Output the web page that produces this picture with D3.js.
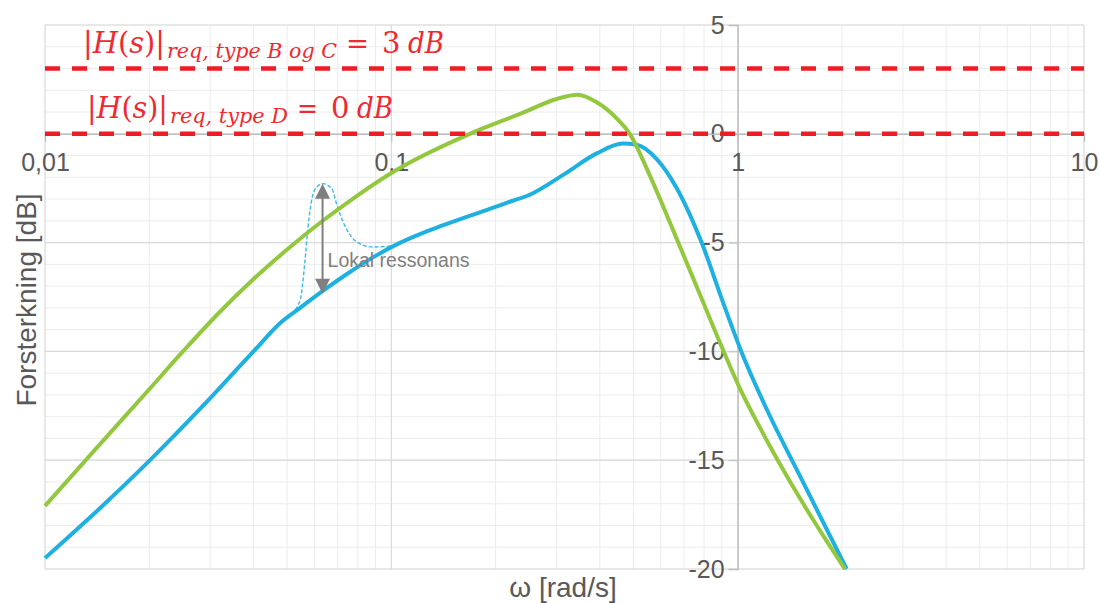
<!DOCTYPE html>
<html><head><meta charset="utf-8">
<script src="https://cdn.jsdelivr.net/npm/d3@7"></script>
<style>body{margin:0;background:#fff}svg{display:block}</style>
</head><body>
<svg id="c" width="1100" height="603"></svg>
<script>
// ---- data ----
const greenOmega = [0.01, 0.0141, 0.02, 0.0251, 0.0316, 0.0398, 0.0501, 0.0631, 0.0794, 0.1, 0.1685, 0.24, 0.30, 0.345, 0.392, 0.448, 0.488, 0.557, 0.649, 0.777, 0.911, 1.0, 1.213, 1.51, 2.04];
const greenGain  = [-17.1, -14.43, -11.74, -9.98, -8.27, -6.71, -5.31, -4.02, -2.86, -1.8, 0, 0.97, 1.6, 1.8, 1.45, 0.7, 0, -1.9, -4.38, -7.36, -10.0, -11.48, -14.08, -16.73, -20];
const blueOmega  = [0.01, 0.0141, 0.0201, 0.0282, 0.04, 0.0483, 0.0544, 0.0634, 0.075, 0.0885, 0.1044, 0.125, 0.138, 0.1924, 0.222, 0.251, 0.3126, 0.3918, 0.4658, 0.511, 0.583, 0.667, 0.787, 0.905, 1.027, 1.213, 1.51, 2.064];
const blueGain   = [-19.5, -17.35, -15.0, -12.6, -10.0, -8.63, -8.01, -7.22, -6.41, -5.68, -5.06, -4.52, -4.26, -3.45, -3.1, -2.8, -1.9, -0.9, -0.45, -0.5, -1.15, -2.5, -5.0, -7.7, -10.05, -12.66, -15.7, -20];
const resOmega   = [0.0483, 0.0544, 0.0563, 0.0574, 0.0590, 0.0610, 0.0634, 0.0673, 0.0696, 0.0725, 0.0759, 0.0811, 0.0885, 0.101];
const resGain    = [-8.63, -7.71, -5.87, -4.36, -2.98, -2.43, -2.29, -2.52, -3.26, -4.04, -4.63, -5.05, -5.2, -5.15];
const reqLevels  = [3, 0];
const xTicks     = [0.01, 0.1, 1, 10];
const xTickLabels= ["0,01", "0,1", "1", "10"];
const yTicks     = [5, 0, -5, -10, -15, -20];
const arrowOmega = 0.0633, arrowTop = -2.3, arrowBottom = -7.35;
const annotText  = "Lokal ressonans";
const xTitle = "ω [rad/s]", yTitle = "Forsterkning [dB]";

// ---- chart ----
const svg = d3.select("#c");
const x = d3.scaleLog().domain([0.01, 10]).range([45, 1084]);
const y = d3.scaleLinear().domain([-20, 5]).range([569, 25]);
const font = "'Liberation Sans', Arial, sans-serif";

// minor grid
const minorX = [];
for (let e = -2; e <= 0; e++) for (let k = 2; k <= 9; k++) minorX.push(k * Math.pow(10, e));
const minorY = d3.range(-20, 6, 1);
const g = svg.append("g");
g.selectAll(".mx").data(minorX).join("line")
  .attr("x1", d => x(d)).attr("x2", d => x(d)).attr("y1", y(5)).attr("y2", y(-20))
  .attr("stroke", "#ececec").attr("stroke-width", 1);
g.selectAll(".my").data(minorY).join("line")
  .attr("x1", x(0.01)).attr("x2", x(10)).attr("y1", d => y(d)).attr("y2", d => y(d))
  .attr("stroke", "#ececec").attr("stroke-width", 1);
// major grid
g.selectAll(".Mx").data(xTicks).join("line")
  .attr("x1", d => x(d)).attr("x2", d => x(d)).attr("y1", y(5)).attr("y2", y(-20))
  .attr("stroke", "#d9d9d9").attr("stroke-width", 1.2);
g.selectAll(".My").data(yTicks).join("line")
  .attr("x1", x(0.01)).attr("x2", x(10)).attr("y1", d => y(d)).attr("y2", d => y(d))
  .attr("stroke", "#d9d9d9").attr("stroke-width", 1.2);

// axes (y axis at omega = 1, x axis at 0 dB)
const yAxis = d3.axisLeft(y).tickValues(yTicks).tickSize(9).tickFormat(d => d);
const ya = svg.append("g").attr("transform", `translate(${x(1)},0)`).call(yAxis);
ya.select(".domain").attr("stroke", "#bdbdbd").attr("stroke-width", 1.3);
ya.selectAll(".tick line").attr("stroke", "#bdbdbd");
ya.selectAll(".tick text").attr("fill", "#595959").attr("font-size", 25).attr("font-family", font).attr("x", -13);

const xAxis = d3.axisBottom(x).tickValues(xTicks).tickSize(8).tickFormat((d, i) => xTickLabels[i]);
const xa = svg.append("g").attr("transform", `translate(0,${y(0)})`).call(xAxis);
xa.select(".domain").attr("stroke", "#bdbdbd").attr("stroke-width", 1.3);
xa.selectAll(".tick line").attr("stroke", "#bdbdbd");
xa.selectAll(".tick text").attr("fill", "#595959").attr("font-size", 25).attr("font-family", font).attr("y", 19);

// curves
const line = d3.line().x(d => x(d[0])).y(d => y(d[1])).curve(d3.curveMonotoneX);
const blueData = blueOmega.map((w, i) => [w, blueGain[i]]);
const greenData = greenOmega.map((w, i) => [w, greenGain[i]]);
const resData = resOmega.map((w, i) => [w, resGain[i]]);
svg.append("path").attr("d", line(resData))
  .attr("fill", "none").attr("stroke", "#3dbbe8").attr("stroke-width", 1.4).attr("stroke-dasharray", "4,2");
svg.append("path").attr("d", line(blueData)).attr("fill", "none")
  .attr("stroke", "#1eb0e0").attr("stroke-width", 4).attr("stroke-linejoin", "round");
svg.append("path").attr("d", line(greenData)).attr("fill", "none")
  .attr("stroke", "#93c83e").attr("stroke-width", 4).attr("stroke-linejoin", "round");

// requirement lines
svg.selectAll(".req").data(reqLevels).join("line")
  .attr("x1", x(0.01)).attr("x2", x(10)).attr("y1", d => y(d)).attr("y2", d => y(d))
  .attr("stroke", "#f01c24").attr("stroke-width", 4.5).attr("stroke-dasharray", "15,12");

// arrow annotation
const ax = x(arrowOmega), aT = y(arrowTop), aB = y(arrowBottom);
const gray = "#7f7f7f";
svg.append("line").attr("x1", ax).attr("x2", ax).attr("y1", aT + 10).attr("y2", aB - 10)
  .attr("stroke", gray).attr("stroke-width", 2);
svg.append("path").attr("d", `M${ax},${aT} L${ax - 7.5},${aT + 15} L${ax + 7.5},${aT + 15} Z`).attr("fill", gray);
svg.append("path").attr("d", `M${ax},${aB} L${ax - 7.5},${aB - 15} L${ax + 7.5},${aB - 15} Z`).attr("fill", gray);
svg.append("text").attr("x", ax + 5).attr("y", y(-6.1)).text(annotText)
  .attr("fill", "#808080").attr("font-size", 19.5).attr("font-family", font);

// axis titles
svg.append("text").attr("x", 563).attr("y", 597).attr("text-anchor", "middle").text(xTitle)
  .attr("fill", "#595959").attr("font-size", 28).attr("font-family", font);
svg.append("text").attr("transform", "translate(36,300) rotate(-90)").attr("text-anchor", "middle").text(yTitle)
  .attr("fill", "#595959").attr("font-size", 28).attr("font-family", font);

// red math labels
const red = "#ee2a30";
const serif = "'DejaVu Serif', 'Liberation Serif', serif";
function mathLabel(x0, base, sub, rhs, widths) {
  const t1 = svg.append("text").attr("x", x0).attr("y", base).attr("font-family", serif)
    .attr("font-size", 29).attr("fill", red).attr("textLength", widths[0]).attr("lengthAdjust", "spacingAndGlyphs");
  t1.append("tspan").text("|");
  t1.append("tspan").attr("font-style", "italic").text("H");
  t1.append("tspan").text("(");
  t1.append("tspan").attr("font-style", "italic").text("s");
  t1.append("tspan").text(")|");
  const xs = x0 + widths[0] + 2;
  svg.append("text").attr("x", xs).attr("y", base + 5).attr("font-family", serif).attr("font-style", "italic")
    .attr("font-size", 21).attr("fill", red).attr("textLength", widths[1]).attr("lengthAdjust", "spacingAndGlyphs").text(sub);
  const xe = xs + widths[1] + 9;
  svg.append("text").attr("x", xe).attr("y", base).attr("font-family", serif)
    .attr("font-size", 28).attr("fill", red).attr("textLength", widths[2]).attr("lengthAdjust", "spacingAndGlyphs").text("=");
  const xr = xe + widths[2] + 13;
  svg.append("text").attr("x", xr).attr("y", base).attr("font-family", serif)
    .attr("font-size", 29).attr("fill", red).text(rhs);
  svg.append("text").attr("x", xr + 26).attr("y", base).attr("font-family", serif).attr("font-style", "italic")
    .attr("font-size", 29).attr("fill", red).attr("textLength", widths[3]).attr("lengthAdjust", "spacingAndGlyphs").text("dB");
}
mathLabel(83, 53, "req, type B og C", "3", [82, 170, 23, 36]);
mathLabel(87, 118, "req, type D", "0", [81, 118, 21, 36]);
</script>
</body></html>
